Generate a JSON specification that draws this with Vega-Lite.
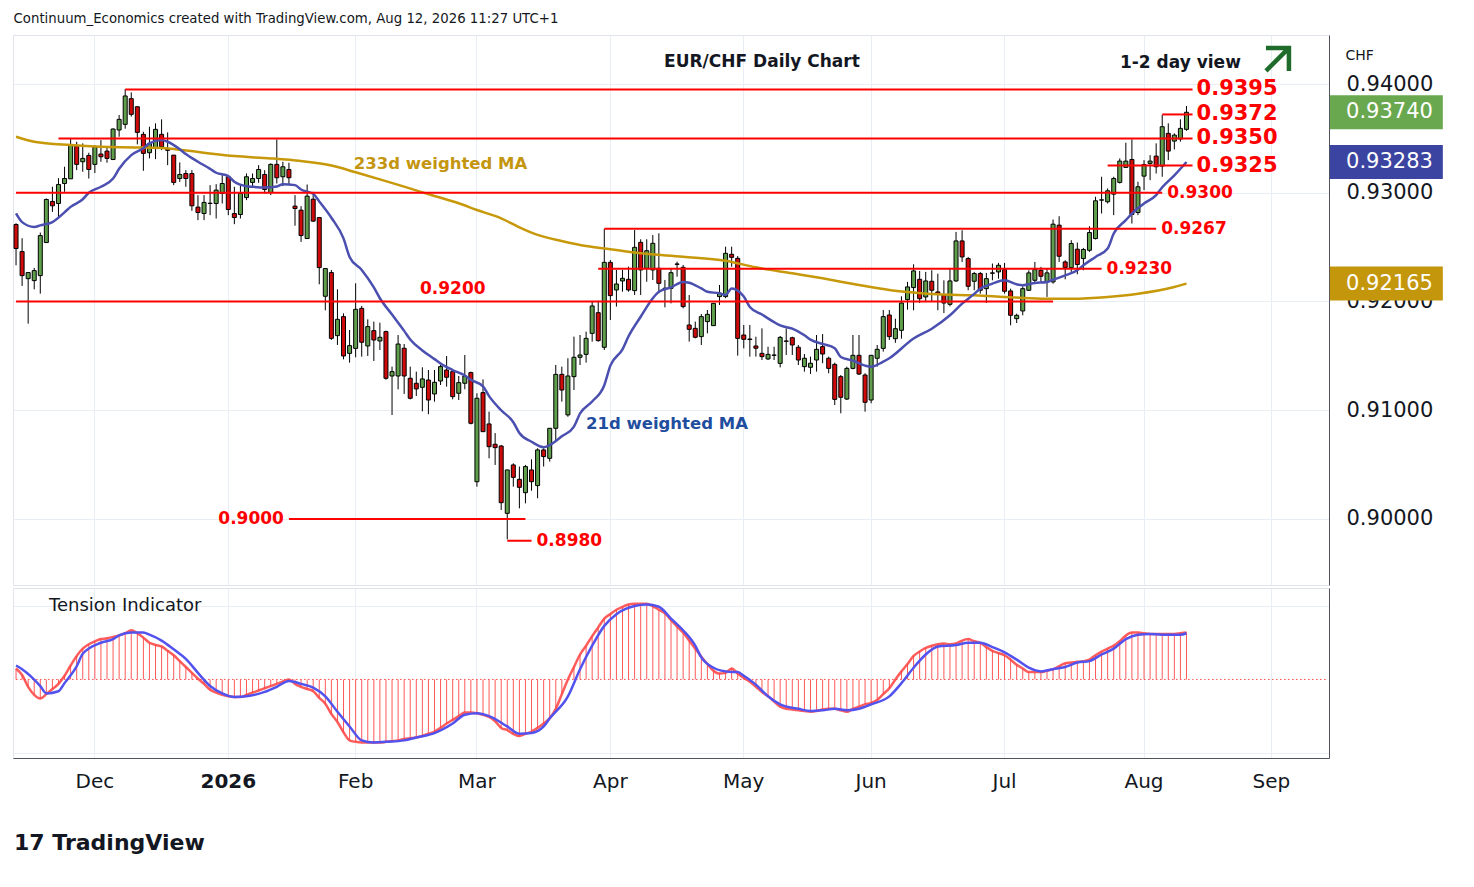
{
  "$schema": "https://vega.github.io/schema/vega-lite/v6.json",
  "padding": {"left": 10, "top": 12, "right": 0, "bottom": 0},
  "title": {"text": "Continuum_Economics created with TradingView.com, Aug 12, 2026 11:27 UTC+1", "anchor": "start", "dx": 3, "fontSize": 13.3, "fontWeight": "normal", "color": "#131722", "offset": 9},
  "spacing": 1,
  "resolve": {"scale": {"x": "shared", "y": "independent"}, "axis": {"x": "independent"}},
  "config": {
    "font": "DejaVu Sans",
    "view": {"stroke": "#e0e3eb"},
    "axis": {"gridColor": "#e9eef4", "domainColor": "#50535e", "ticks": false, "title": null, "labelColor": "#131722"}
  },
  "datasets": {
    "px": [
      {"d":"2025-11-12","o":0.92708,"h":0.9272,"l":0.92333,"c":0.92487,"t":15},
      {"d":"2025-11-13","o":0.92459,"h":0.92582,"l":0.92143,"c":0.92238,"t":6},
      {"d":"2025-11-14","o":0.9221,"h":0.92266,"l":0.91796,"c":0.92266,"t":-10},
      {"d":"2025-11-17","o":0.92192,"h":0.92309,"l":0.92112,"c":0.92284,"t":-21},
      {"d":"2025-11-18","o":0.92238,"h":0.92634,"l":0.92072,"c":0.92606,"t":-26},
      {"d":"2025-11-19","o":0.92542,"h":0.92947,"l":0.92542,"c":0.92938,"t":-20},
      {"d":"2025-11-20","o":0.9292,"h":0.93055,"l":0.92824,"c":0.9288,"t":-13},
      {"d":"2025-11-21","o":0.92901,"h":0.93134,"l":0.92763,"c":0.93076,"t":-6},
      {"d":"2025-11-24","o":0.93085,"h":0.93239,"l":0.93009,"c":0.93131,"t":5},
      {"d":"2025-11-25","o":0.93128,"h":0.935,"l":0.93128,"c":0.93438,"t":19},
      {"d":"2025-11-26","o":0.93432,"h":0.93469,"l":0.93208,"c":0.93261,"t":32},
      {"d":"2025-11-27","o":0.93285,"h":0.93454,"l":0.93193,"c":0.93316,"t":42},
      {"d":"2025-11-28","o":0.93343,"h":0.93368,"l":0.93131,"c":0.93214,"t":48},
      {"d":"2025-12-01","o":0.93261,"h":0.93438,"l":0.93181,"c":0.93423,"t":52},
      {"d":"2025-12-02","o":0.93356,"h":0.93484,"l":0.93285,"c":0.93331,"t":55},
      {"d":"2025-12-03","o":0.93383,"h":0.93423,"l":0.93276,"c":0.93316,"t":56},
      {"d":"2025-12-04","o":0.93306,"h":0.93592,"l":0.933,"c":0.93586,"t":58},
      {"d":"2025-12-05","o":0.93577,"h":0.93715,"l":0.93515,"c":0.93675,"t":60},
      {"d":"2025-12-08","o":0.93629,"h":0.93954,"l":0.93589,"c":0.9389,"t":63},
      {"d":"2025-12-09","o":0.93865,"h":0.93923,"l":0.937,"c":0.93721,"t":67},
      {"d":"2025-12-10","o":0.93791,"h":0.93791,"l":0.93445,"c":0.93555,"t":63},
      {"d":"2025-12-11","o":0.93537,"h":0.93561,"l":0.93202,"c":0.93362,"t":57},
      {"d":"2025-12-12","o":0.93368,"h":0.93607,"l":0.93316,"c":0.93454,"t":50},
      {"d":"2025-12-15","o":0.93408,"h":0.93638,"l":0.93309,"c":0.93583,"t":47},
      {"d":"2025-12-16","o":0.93537,"h":0.93675,"l":0.93392,"c":0.93423,"t":45},
      {"d":"2025-12-17","o":0.934,"h":0.93555,"l":0.93254,"c":0.9339,"t":39},
      {"d":"2025-12-18","o":0.93346,"h":0.93346,"l":0.9307,"c":0.93095,"t":33},
      {"d":"2025-12-19","o":0.93131,"h":0.93279,"l":0.931,"c":0.93168,"t":25},
      {"d":"2025-12-22","o":0.93177,"h":0.93208,"l":0.93055,"c":0.93131,"t":17},
      {"d":"2025-12-23","o":0.93177,"h":0.93208,"l":0.92834,"c":0.9288,"t":9},
      {"d":"2025-12-24","o":0.92868,"h":0.92978,"l":0.92748,"c":0.92818,"t":1},
      {"d":"2025-12-26","o":0.92809,"h":0.92978,"l":0.92748,"c":0.92911,"t":-6},
      {"d":"2025-12-29","o":0.92904,"h":0.9307,"l":0.92794,"c":0.92901,"t":-14},
      {"d":"2025-12-30","o":0.92901,"h":0.93079,"l":0.92763,"c":0.93024,"t":-18},
      {"d":"2025-12-31","o":0.92993,"h":0.93162,"l":0.92901,"c":0.93085,"t":-21},
      {"d":"2026-01-02","o":0.93147,"h":0.93162,"l":0.92794,"c":0.92846,"t":-23},
      {"d":"2026-01-05","o":0.92809,"h":0.93055,"l":0.92711,"c":0.92772,"t":-24},
      {"d":"2026-01-06","o":0.928,"h":0.9307,"l":0.92763,"c":0.92993,"t":-24},
      {"d":"2026-01-07","o":0.92956,"h":0.93177,"l":0.92932,"c":0.93147,"t":-21},
      {"d":"2026-01-08","o":0.93095,"h":0.93177,"l":0.93055,"c":0.93131,"t":-18},
      {"d":"2026-01-09","o":0.93131,"h":0.93254,"l":0.93091,"c":0.93214,"t":-15},
      {"d":"2026-01-12","o":0.93168,"h":0.93208,"l":0.92993,"c":0.9303,"t":-12},
      {"d":"2026-01-13","o":0.93003,"h":0.9327,"l":0.92978,"c":0.93261,"t":-9},
      {"d":"2026-01-14","o":0.93261,"h":0.93491,"l":0.93085,"c":0.93138,"t":-6},
      {"d":"2026-01-15","o":0.93147,"h":0.93285,"l":0.93061,"c":0.93239,"t":-3},
      {"d":"2026-01-16","o":0.93214,"h":0.93276,"l":0.9307,"c":0.93138,"t":0},
      {"d":"2026-01-19","o":0.92877,"h":0.92978,"l":0.92697,"c":0.92855,"t":-6},
      {"d":"2026-01-20","o":0.9284,"h":0.92877,"l":0.92548,"c":0.92606,"t":-10},
      {"d":"2026-01-21","o":0.92579,"h":0.93076,"l":0.92579,"c":0.92969,"t":-13},
      {"d":"2026-01-22","o":0.92941,"h":0.93009,"l":0.92733,"c":0.92739,"t":-16},
      {"d":"2026-01-23","o":0.92772,"h":0.92772,"l":0.92158,"c":0.92312,"t":-25},
      {"d":"2026-01-26","o":0.92048,"h":0.92303,"l":0.91919,"c":0.92303,"t":-33},
      {"d":"2026-01-27","o":0.92266,"h":0.9229,"l":0.91646,"c":0.91661,"t":-47},
      {"d":"2026-01-28","o":0.91686,"h":0.92112,"l":0.916,"c":0.91836,"t":-58},
      {"d":"2026-01-29","o":0.91861,"h":0.91891,"l":0.91468,"c":0.91499,"t":-72},
      {"d":"2026-01-30","o":0.91523,"h":0.91738,"l":0.91438,"c":0.91594,"t":-83},
      {"d":"2026-02-02","o":0.91569,"h":0.92167,"l":0.91487,"c":0.91928,"t":-85},
      {"d":"2026-02-03","o":0.91937,"h":0.91959,"l":0.91493,"c":0.91625,"t":-86},
      {"d":"2026-02-04","o":0.91591,"h":0.91836,"l":0.91499,"c":0.91769,"t":-86},
      {"d":"2026-02-05","o":0.91732,"h":0.91815,"l":0.91453,"c":0.91646,"t":-86},
      {"d":"2026-02-06","o":0.91637,"h":0.91805,"l":0.91554,"c":0.91671,"t":-86},
      {"d":"2026-02-09","o":0.91723,"h":0.91732,"l":0.9128,"c":0.91294,"t":-85},
      {"d":"2026-02-10","o":0.91315,"h":0.91401,"l":0.90956,"c":0.91355,"t":-84},
      {"d":"2026-02-11","o":0.91315,"h":0.91692,"l":0.91192,"c":0.91609,"t":-83},
      {"d":"2026-02-12","o":0.9157,"h":0.91609,"l":0.9115,"c":0.91315,"t":-81},
      {"d":"2026-02-13","o":0.91294,"h":0.91401,"l":0.911,"c":0.9111,"t":-80},
      {"d":"2026-02-16","o":0.91248,"h":0.91355,"l":0.91131,"c":0.91196,"t":-79},
      {"d":"2026-02-17","o":0.91211,"h":0.91395,"l":0.9099,"c":0.91288,"t":-77},
      {"d":"2026-02-18","o":0.91278,"h":0.9137,"l":0.90964,"c":0.91094,"t":-74},
      {"d":"2026-02-19","o":0.9115,"h":0.9137,"l":0.91079,"c":0.91257,"t":-71},
      {"d":"2026-02-20","o":0.91269,"h":0.91416,"l":0.91232,"c":0.91401,"t":-66},
      {"d":"2026-02-23","o":0.9137,"h":0.91499,"l":0.91217,"c":0.91303,"t":-60},
      {"d":"2026-02-24","o":0.91355,"h":0.9137,"l":0.911,"c":0.91125,"t":-55},
      {"d":"2026-02-25","o":0.91156,"h":0.91315,"l":0.91094,"c":0.91254,"t":-50},
      {"d":"2026-02-26","o":0.91248,"h":0.91508,"l":0.91193,"c":0.91315,"t":-45},
      {"d":"2026-02-27","o":0.91346,"h":0.91355,"l":0.9087,"c":0.9088,"t":-45},
      {"d":"2026-03-02","o":0.90343,"h":0.91156,"l":0.90297,"c":0.9111,"t":-46},
      {"d":"2026-03-03","o":0.91162,"h":0.91284,"l":0.908,"c":0.90803,"t":-48},
      {"d":"2026-03-04","o":0.90874,"h":0.90987,"l":0.90558,"c":0.90665,"t":-51},
      {"d":"2026-03-05","o":0.90687,"h":0.9079,"l":0.90497,"c":0.90656,"t":-57},
      {"d":"2026-03-06","o":0.90671,"h":0.90681,"l":0.90083,"c":0.9015,"t":-66},
      {"d":"2026-03-09","o":0.90052,"h":0.90451,"l":0.89813,"c":0.90451,"t":-69},
      {"d":"2026-03-10","o":0.90497,"h":0.90512,"l":0.90297,"c":0.90383,"t":-74},
      {"d":"2026-03-11","o":0.90365,"h":0.90482,"l":0.90098,"c":0.90291,"t":-77},
      {"d":"2026-03-12","o":0.90242,"h":0.90497,"l":0.90144,"c":0.90482,"t":-74},
      {"d":"2026-03-13","o":0.90451,"h":0.90549,"l":0.9026,"c":0.90343,"t":-71},
      {"d":"2026-03-16","o":0.90307,"h":0.9065,"l":0.9019,"c":0.90635,"t":-66},
      {"d":"2026-03-17","o":0.90635,"h":0.9065,"l":0.90482,"c":0.90574,"t":-60},
      {"d":"2026-03-18","o":0.90558,"h":0.90834,"l":0.90528,"c":0.90834,"t":-53},
      {"d":"2026-03-19","o":0.90834,"h":0.91416,"l":0.90727,"c":0.9133,"t":-40},
      {"d":"2026-03-20","o":0.9133,"h":0.91401,"l":0.91079,"c":0.91186,"t":-20},
      {"d":"2026-03-23","o":0.90957,"h":0.91478,"l":0.9094,"c":0.91315,"t":0},
      {"d":"2026-03-24","o":0.91309,"h":0.91677,"l":0.91186,"c":0.91487,"t":17},
      {"d":"2026-03-25","o":0.91487,"h":0.91692,"l":0.91416,"c":0.91508,"t":34},
      {"d":"2026-03-26","o":0.91514,"h":0.91723,"l":0.91438,"c":0.91661,"t":46},
      {"d":"2026-03-27","o":0.91707,"h":0.92005,"l":0.91631,"c":0.91959,"t":59},
      {"d":"2026-03-30","o":0.91897,"h":0.92008,"l":0.91631,"c":0.9164,"t":71},
      {"d":"2026-03-31","o":0.91579,"h":0.92667,"l":0.91554,"c":0.9236,"t":83},
      {"d":"2026-04-01","o":0.9236,"h":0.92381,"l":0.9183,"c":0.92054,"t":89},
      {"d":"2026-04-02","o":0.92106,"h":0.9229,"l":0.91953,"c":0.92161,"t":95},
      {"d":"2026-04-03","o":0.92189,"h":0.9229,"l":0.9209,"c":0.92213,"t":99},
      {"d":"2026-04-06","o":0.92204,"h":0.9232,"l":0.9209,"c":0.92106,"t":102},
      {"d":"2026-04-07","o":0.921,"h":0.92657,"l":0.9206,"c":0.92498,"t":103},
      {"d":"2026-04-08","o":0.92544,"h":0.92572,"l":0.9206,"c":0.9229,"t":103},
      {"d":"2026-04-09","o":0.92305,"h":0.92572,"l":0.92182,"c":0.92467,"t":103},
      {"d":"2026-04-10","o":0.9229,"h":0.92611,"l":0.92198,"c":0.92535,"t":100},
      {"d":"2026-04-13","o":0.92305,"h":0.92627,"l":0.92075,"c":0.92167,"t":95},
      {"d":"2026-04-14","o":0.92122,"h":0.92198,"l":0.91946,"c":0.92118,"t":90},
      {"d":"2026-04-15","o":0.92121,"h":0.92305,"l":0.91983,"c":0.92265,"t":81},
      {"d":"2026-04-16","o":0.92345,"h":0.92366,"l":0.92228,"c":0.92342,"t":72},
      {"d":"2026-04-17","o":0.92314,"h":0.92336,"l":0.91937,"c":0.91953,"t":64},
      {"d":"2026-04-20","o":0.91784,"h":0.9206,"l":0.91631,"c":0.91744,"t":53},
      {"d":"2026-04-21","o":0.91753,"h":0.91815,"l":0.91661,"c":0.91671,"t":42},
      {"d":"2026-04-22","o":0.91677,"h":0.91885,"l":0.916,"c":0.91861,"t":31},
      {"d":"2026-04-23","o":0.91815,"h":0.91922,"l":0.91707,"c":0.91882,"t":21},
      {"d":"2026-04-24","o":0.91778,"h":0.91983,"l":0.91778,"c":0.91983,"t":12},
      {"d":"2026-04-27","o":0.92045,"h":0.92152,"l":0.91968,"c":0.92075,"t":8},
      {"d":"2026-04-28","o":0.92045,"h":0.92504,"l":0.9203,"c":0.92443,"t":9},
      {"d":"2026-04-29","o":0.92434,"h":0.92504,"l":0.9232,"c":0.92406,"t":15},
      {"d":"2026-04-30","o":0.92397,"h":0.92418,"l":0.91502,"c":0.91661,"t":8},
      {"d":"2026-05-01","o":0.91692,"h":0.91784,"l":0.91569,"c":0.91652,"t":2},
      {"d":"2026-05-04","o":0.91655,"h":0.91784,"l":0.91493,"c":0.9165,"t":-3},
      {"d":"2026-05-05","o":0.91591,"h":0.91676,"l":0.91493,"c":0.9157,"t":-10},
      {"d":"2026-05-06","o":0.91523,"h":0.91753,"l":0.91462,"c":0.91493,"t":-17},
      {"d":"2026-05-07","o":0.91472,"h":0.91584,"l":0.91462,"c":0.91514,"t":-23},
      {"d":"2026-05-08","o":0.91505,"h":0.91584,"l":0.91462,"c":0.91508,"t":-30},
      {"d":"2026-05-11","o":0.91431,"h":0.91683,"l":0.91394,"c":0.9167,"t":-37},
      {"d":"2026-05-12","o":0.91637,"h":0.91753,"l":0.91508,"c":0.91634,"t":-40},
      {"d":"2026-05-13","o":0.91667,"h":0.91676,"l":0.91508,"c":0.916,"t":-41},
      {"d":"2026-05-14","o":0.91579,"h":0.916,"l":0.91416,"c":0.91462,"t":-42},
      {"d":"2026-05-15","o":0.91401,"h":0.91517,"l":0.91355,"c":0.91478,"t":-43},
      {"d":"2026-05-18","o":0.91395,"h":0.91493,"l":0.91334,"c":0.91432,"t":-44},
      {"d":"2026-05-19","o":0.91462,"h":0.91692,"l":0.91355,"c":0.9156,"t":-43},
      {"d":"2026-05-20","o":0.91585,"h":0.91701,"l":0.91432,"c":0.91517,"t":-41},
      {"d":"2026-05-21","o":0.91478,"h":0.91493,"l":0.9134,"c":0.91385,"t":-40},
      {"d":"2026-05-22","o":0.91422,"h":0.91438,"l":0.91048,"c":0.911,"t":-40},
      {"d":"2026-05-25","o":0.91309,"h":0.91324,"l":0.90972,"c":0.91119,"t":-42},
      {"d":"2026-05-26","o":0.91103,"h":0.91401,"l":0.91094,"c":0.91385,"t":-44},
      {"d":"2026-05-27","o":0.91385,"h":0.91692,"l":0.91376,"c":0.91505,"t":-40},
      {"d":"2026-05-28","o":0.91505,"h":0.91692,"l":0.91324,"c":0.91333,"t":-37},
      {"d":"2026-05-29","o":0.91324,"h":0.9134,"l":0.90987,"c":0.91073,"t":-34},
      {"d":"2026-06-01","o":0.91094,"h":0.91505,"l":0.91064,"c":0.91505,"t":-32},
      {"d":"2026-06-02","o":0.91478,"h":0.916,"l":0.91401,"c":0.9156,"t":-28},
      {"d":"2026-06-03","o":0.91569,"h":0.91922,"l":0.91539,"c":0.91861,"t":-20},
      {"d":"2026-06-04","o":0.91876,"h":0.91922,"l":0.91646,"c":0.91677,"t":-12},
      {"d":"2026-06-05","o":0.91658,"h":0.91842,"l":0.9162,"c":0.9175,"t":0},
      {"d":"2026-06-08","o":0.91735,"h":0.92048,"l":0.91658,"c":0.91986,"t":11},
      {"d":"2026-06-09","o":0.92017,"h":0.9218,"l":0.91925,"c":0.92134,"t":21},
      {"d":"2026-06-10","o":0.92128,"h":0.92342,"l":0.91919,"c":0.92281,"t":32},
      {"d":"2026-06-11","o":0.92204,"h":0.92281,"l":0.91986,"c":0.92026,"t":38},
      {"d":"2026-06-12","o":0.92042,"h":0.92272,"l":0.91996,"c":0.92189,"t":43},
      {"d":"2026-06-15","o":0.92186,"h":0.92287,"l":0.91996,"c":0.92103,"t":46},
      {"d":"2026-06-16","o":0.92088,"h":0.92256,"l":0.91919,"c":0.92072,"t":48},
      {"d":"2026-06-17","o":0.92057,"h":0.92195,"l":0.91894,"c":0.91986,"t":49},
      {"d":"2026-06-18","o":0.91974,"h":0.92302,"l":0.91956,"c":0.92189,"t":48},
      {"d":"2026-06-19","o":0.92189,"h":0.9264,"l":0.9218,"c":0.92557,"t":49},
      {"d":"2026-06-22","o":0.92557,"h":0.92655,"l":0.92364,"c":0.9241,"t":53},
      {"d":"2026-06-23","o":0.92395,"h":0.9241,"l":0.92103,"c":0.9214,"t":55},
      {"d":"2026-06-24","o":0.92186,"h":0.92272,"l":0.92103,"c":0.92257,"t":52},
      {"d":"2026-06-25","o":0.92257,"h":0.92272,"l":0.92072,"c":0.92103,"t":50},
      {"d":"2026-06-26","o":0.92118,"h":0.92263,"l":0.91986,"c":0.9221,"t":44},
      {"d":"2026-06-29","o":0.92263,"h":0.92349,"l":0.92195,"c":0.9226,"t":39},
      {"d":"2026-06-30","o":0.92272,"h":0.92355,"l":0.9221,"c":0.92333,"t":36},
      {"d":"2026-07-01","o":0.92293,"h":0.92355,"l":0.92072,"c":0.92094,"t":33},
      {"d":"2026-07-02","o":0.92097,"h":0.92118,"l":0.91781,"c":0.91873,"t":27},
      {"d":"2026-07-03","o":0.91842,"h":0.91888,"l":0.91802,"c":0.91873,"t":20},
      {"d":"2026-07-06","o":0.91913,"h":0.9214,"l":0.91873,"c":0.92118,"t":15},
      {"d":"2026-07-07","o":0.92103,"h":0.92287,"l":0.92097,"c":0.92263,"t":10},
      {"d":"2026-07-08","o":0.92195,"h":0.92364,"l":0.92171,"c":0.92293,"t":10},
      {"d":"2026-07-09","o":0.92287,"h":0.92318,"l":0.92171,"c":0.92232,"t":10},
      {"d":"2026-07-10","o":0.9218,"h":0.92302,"l":0.92042,"c":0.92263,"t":12},
      {"d":"2026-07-13","o":0.9218,"h":0.92754,"l":0.92164,"c":0.92711,"t":14},
      {"d":"2026-07-14","o":0.92702,"h":0.92784,"l":0.92364,"c":0.92416,"t":18},
      {"d":"2026-07-15","o":0.92364,"h":0.92379,"l":0.92204,"c":0.92312,"t":22},
      {"d":"2026-07-16","o":0.92312,"h":0.92564,"l":0.92272,"c":0.92533,"t":23},
      {"d":"2026-07-17","o":0.92481,"h":0.92542,"l":0.9225,"c":0.9234,"t":24},
      {"d":"2026-07-20","o":0.92395,"h":0.92493,"l":0.92287,"c":0.92478,"t":25},
      {"d":"2026-07-21","o":0.92471,"h":0.92692,"l":0.92456,"c":0.92634,"t":27},
      {"d":"2026-07-22","o":0.92579,"h":0.92963,"l":0.9257,"c":0.92926,"t":33},
      {"d":"2026-07-23","o":0.92932,"h":0.93147,"l":0.92809,"c":0.92935,"t":38},
      {"d":"2026-07-24","o":0.92917,"h":0.9304,"l":0.92901,"c":0.93018,"t":42},
      {"d":"2026-07-27","o":0.92987,"h":0.93147,"l":0.92794,"c":0.93131,"t":46},
      {"d":"2026-07-28","o":0.93095,"h":0.93316,"l":0.93085,"c":0.93291,"t":52},
      {"d":"2026-07-29","o":0.93233,"h":0.9346,"l":0.93233,"c":0.93291,"t":60},
      {"d":"2026-07-30","o":0.93306,"h":0.93491,"l":0.92717,"c":0.928,"t":64},
      {"d":"2026-07-31","o":0.92818,"h":0.93101,"l":0.92794,"c":0.93055,"t":64},
      {"d":"2026-08-03","o":0.93153,"h":0.933,"l":0.93024,"c":0.9326,"t":63},
      {"d":"2026-08-04","o":0.9327,"h":0.93346,"l":0.93116,"c":0.93291,"t":62},
      {"d":"2026-08-05","o":0.93337,"h":0.93454,"l":0.93177,"c":0.93239,"t":62},
      {"d":"2026-08-06","o":0.93245,"h":0.93715,"l":0.93147,"c":0.93607,"t":62},
      {"d":"2026-08-07","o":0.93546,"h":0.93638,"l":0.933,"c":0.93383,"t":62},
      {"d":"2026-08-10","o":0.93475,"h":0.93546,"l":0.93398,"c":0.9353,"t":62},
      {"d":"2026-08-11","o":0.93494,"h":0.93675,"l":0.9347,"c":0.93592,"t":63},
      {"d":"2026-08-12","o":0.93583,"h":0.93798,"l":0.9357,"c":0.9374,"t":64},
      {"d":"2026-08-13"},{"d":"2026-08-14"},{"d":"2026-08-17"},{"d":"2026-08-18"},{"d":"2026-08-19"},
      {"d":"2026-08-20"},{"d":"2026-08-21"},{"d":"2026-08-24"},{"d":"2026-08-25"},{"d":"2026-08-26"},
      {"d":"2026-08-27"},{"d":"2026-08-28"},{"d":"2026-08-31"},{"d":"2026-09-01"},{"d":"2026-09-02"},
      {"d":"2026-09-03"},{"d":"2026-09-04"},{"d":"2026-09-07"},{"d":"2026-09-08"},{"d":"2026-09-09"},
      {"d":"2026-09-10"},{"d":"2026-09-11"},{"d":"2026-09-14"}
    ],
    "ma21": [
      {"d":"2025-11-12","v":0.9281},{"d":"2025-11-13","v":0.9273},{"d":"2025-11-17","v":0.92686},{"d":"2025-11-18","v":0.927},
      {"d":"2025-11-20","v":0.9273},{"d":"2025-11-24","v":0.9282},{"d":"2025-11-25","v":0.9287},{"d":"2025-11-27","v":0.9294},
      {"d":"2025-11-28","v":0.93},{"d":"2025-12-02","v":0.93055},{"d":"2025-12-04","v":0.9313},{"d":"2025-12-05","v":0.9322},
      {"d":"2025-12-09","v":0.93346},{"d":"2025-12-11","v":0.9341},{"d":"2025-12-12","v":0.93454},{"d":"2025-12-16","v":0.93484},
      {"d":"2025-12-17","v":0.93469},{"d":"2025-12-19","v":0.934},{"d":"2025-12-22","v":0.93356},{"d":"2025-12-24","v":0.93285},
      {"d":"2025-12-29","v":0.9322},{"d":"2025-12-30","v":0.93184},{"d":"2026-01-02","v":0.93153},{"d":"2026-01-05","v":0.93101},
      {"d":"2026-01-07","v":0.9306},{"d":"2026-01-08","v":0.93055},{"d":"2026-01-12","v":0.93049},{"d":"2026-01-14","v":0.93058},
      {"d":"2026-01-15","v":0.93079},{"d":"2026-01-19","v":0.9307},{"d":"2026-01-20","v":0.9303},{"d":"2026-01-22","v":0.9299},
      {"d":"2026-01-23","v":0.9292},{"d":"2026-01-27","v":0.9277},{"d":"2026-01-29","v":0.9258},{"d":"2026-01-30","v":0.9241},
      {"d":"2026-02-03","v":0.9229},{"d":"2026-02-05","v":0.9213},{"d":"2026-02-06","v":0.9203},{"d":"2026-02-10","v":0.9188},
      {"d":"2026-02-12","v":0.9173},{"d":"2026-02-13","v":0.9165},{"d":"2026-02-17","v":0.9155},{"d":"2026-02-19","v":0.9147},
      {"d":"2026-02-20","v":0.9143},{"d":"2026-02-24","v":0.9137},{"d":"2026-02-26","v":0.9132},{"d":"2026-02-27","v":0.9128},
      {"d":"2026-03-03","v":0.9122},{"d":"2026-03-04","v":0.9113},{"d":"2026-03-06","v":0.91},{"d":"2026-03-10","v":0.9089},
      {"d":"2026-03-11","v":0.9079},{"d":"2026-03-13","v":0.9071},{"d":"2026-03-17","v":0.9066},{"d":"2026-03-18","v":0.9068},
      {"d":"2026-03-20","v":0.9076},{"d":"2026-03-24","v":0.9085},{"d":"2026-03-25","v":0.9097},{"d":"2026-03-27","v":0.9108},
      {"d":"2026-03-31","v":0.9123},{"d":"2026-04-01","v":0.9141},{"d":"2026-04-03","v":0.9156},{"d":"2026-04-06","v":0.9168},
      {"d":"2026-04-08","v":0.9186},{"d":"2026-04-10","v":0.9203},{"d":"2026-04-13","v":0.9209},{"d":"2026-04-15","v":0.9213},
      {"d":"2026-04-17","v":0.9218},{"d":"2026-04-20","v":0.92173},{"d":"2026-04-22","v":0.9212},{"d":"2026-04-23","v":0.9209},
      {"d":"2026-04-27","v":0.92075},{"d":"2026-04-28","v":0.9206},{"d":"2026-04-29","v":0.9212},{"d":"2026-05-01","v":0.92045},
      {"d":"2026-05-04","v":0.9195},{"d":"2026-05-06","v":0.9188},{"d":"2026-05-08","v":0.9181},{"d":"2026-05-11","v":0.9178},
      {"d":"2026-05-13","v":0.9175},{"d":"2026-05-15","v":0.9169},{"d":"2026-05-18","v":0.9165},{"d":"2026-05-20","v":0.9161},
      {"d":"2026-05-22","v":0.9157},{"d":"2026-05-25","v":0.9149},{"d":"2026-05-27","v":0.91456},{"d":"2026-05-29","v":0.9141},
      {"d":"2026-06-01","v":0.914},{"d":"2026-06-03","v":0.91447},{"d":"2026-06-04","v":0.91478},{"d":"2026-06-10","v":0.9166},
      {"d":"2026-06-15","v":0.9175},{"d":"2026-06-18","v":0.91873},{"d":"2026-06-22","v":0.9198},{"d":"2026-06-24","v":0.9207},
      {"d":"2026-06-25","v":0.92118},{"d":"2026-06-29","v":0.92164},{"d":"2026-07-01","v":0.92195},{"d":"2026-07-03","v":0.92158},
      {"d":"2026-07-06","v":0.9215},{"d":"2026-07-08","v":0.9217},{"d":"2026-07-10","v":0.9218},{"d":"2026-07-13","v":0.922},
      {"d":"2026-07-15","v":0.9224},{"d":"2026-07-17","v":0.92287},{"d":"2026-07-20","v":0.92333},{"d":"2026-07-22","v":0.9241},
      {"d":"2026-07-24","v":0.92487},{"d":"2026-07-27","v":0.92625},{"d":"2026-07-29","v":0.92748},{"d":"2026-07-30","v":0.92809},
      {"d":"2026-08-03","v":0.92901},{"d":"2026-08-05","v":0.92978},{"d":"2026-08-06","v":0.9305},{"d":"2026-08-10","v":0.9316},
      {"d":"2026-08-12","v":0.93283}
    ],
    "ma233": [
      {"d":"2025-11-12","v":0.93515},{"d":"2025-11-17","v":0.93469},{"d":"2025-11-25","v":0.93438},{"d":"2025-12-02","v":0.93423},
      {"d":"2025-12-10","v":0.93417},{"d":"2025-12-17","v":0.93408},{"d":"2025-12-26","v":0.93368},{"d":"2026-01-05","v":0.93337},
      {"d":"2026-01-13","v":0.93316},{"d":"2026-01-20","v":0.93291},{"d":"2026-01-27","v":0.9325},{"d":"2026-02-02","v":0.93188},
      {"d":"2026-02-06","v":0.93123},{"d":"2026-02-12","v":0.93056},{"d":"2026-02-19","v":0.9297},{"d":"2026-02-25","v":0.92903},
      {"d":"2026-03-02","v":0.92841},{"d":"2026-03-06","v":0.92765},{"d":"2026-03-11","v":0.92682},{"d":"2026-03-16","v":0.92612},
      {"d":"2026-03-20","v":0.92556},{"d":"2026-03-25","v":0.9252},{"d":"2026-03-30","v":0.92495},{"d":"2026-04-01","v":0.9248},
      {"d":"2026-04-08","v":0.92443},{"d":"2026-04-17","v":0.92412},{"d":"2026-04-28","v":0.92375},{"d":"2026-05-05","v":0.92314},
      {"d":"2026-05-13","v":0.92259},{"d":"2026-05-20","v":0.92213},{"d":"2026-05-28","v":0.92152},{"d":"2026-06-04","v":0.92106},
      {"d":"2026-06-09","v":0.92088},{"d":"2026-06-16","v":0.92066},{"d":"2026-06-24","v":0.92057},{"d":"2026-07-01","v":0.92042},
      {"d":"2026-07-09","v":0.92026},{"d":"2026-07-16","v":0.92026},{"d":"2026-07-24","v":0.92042},{"d":"2026-07-31","v":0.92072},
      {"d":"2026-08-10","v":0.92134},{"d":"2026-08-12","v":0.92165}
    ],
    "tb": [
      {"d":"2025-11-12","v":19},{"d":"2025-11-13","v":14},{"d":"2025-11-18","v":-9},{"d":"2025-11-19","v":-19},
      {"d":"2025-11-21","v":-16},{"d":"2025-11-24","v":-5},{"d":"2025-11-26","v":18},{"d":"2025-11-27","v":35},
      {"d":"2025-12-02","v":50},{"d":"2025-12-04","v":55},{"d":"2025-12-05","v":60},{"d":"2025-12-09","v":64},
      {"d":"2025-12-11","v":64},{"d":"2025-12-12","v":61},{"d":"2025-12-16","v":53},{"d":"2025-12-18","v":41},
      {"d":"2025-12-22","v":28},{"d":"2025-12-24","v":9},{"d":"2025-12-29","v":-9},{"d":"2025-12-31","v":-19},
      {"d":"2026-01-05","v":-24},{"d":"2026-01-07","v":-23},{"d":"2026-01-12","v":-17},{"d":"2026-01-14","v":-10},
      {"d":"2026-01-16","v":-2},{"d":"2026-01-20","v":-6},{"d":"2026-01-22","v":-11},{"d":"2026-01-26","v":-23},
      {"d":"2026-01-28","v":-44},{"d":"2026-01-30","v":-64},{"d":"2026-02-03","v":-83},{"d":"2026-02-05","v":-86},
      {"d":"2026-02-09","v":-85},{"d":"2026-02-12","v":-83},{"d":"2026-02-16","v":-79},{"d":"2026-02-19","v":-73},
      {"d":"2026-02-24","v":-60},{"d":"2026-02-26","v":-48},{"d":"2026-03-02","v":-46},{"d":"2026-03-04","v":-50},
      {"d":"2026-03-09","v":-64},{"d":"2026-03-11","v":-74},{"d":"2026-03-13","v":-73},{"d":"2026-03-17","v":-64},
      {"d":"2026-03-18","v":-53},{"d":"2026-03-23","v":-23},{"d":"2026-03-25","v":14},{"d":"2026-03-27","v":46},
      {"d":"2026-03-31","v":73},{"d":"2026-04-02","v":89},{"d":"2026-04-07","v":100},{"d":"2026-04-09","v":102},
      {"d":"2026-04-13","v":99},{"d":"2026-04-15","v":83},{"d":"2026-04-17","v":67},{"d":"2026-04-21","v":46},
      {"d":"2026-04-22","v":30},{"d":"2026-04-24","v":16},{"d":"2026-04-28","v":11},{"d":"2026-04-29","v":10},
      {"d":"2026-04-30","v":10},{"d":"2026-05-01","v":5},{"d":"2026-05-05","v":-7},{"d":"2026-05-07","v":-23},
      {"d":"2026-05-11","v":-34},{"d":"2026-05-14","v":-40},{"d":"2026-05-18","v":-43},{"d":"2026-05-20","v":-42},
      {"d":"2026-05-22","v":-40},{"d":"2026-05-26","v":-42},{"d":"2026-05-28","v":-40},{"d":"2026-06-01","v":-34},
      {"d":"2026-06-04","v":-23},{"d":"2026-06-08","v":-5},{"d":"2026-06-10","v":16},{"d":"2026-06-12","v":34},
      {"d":"2026-06-16","v":45},{"d":"2026-06-19","v":47},{"d":"2026-06-23","v":50},{"d":"2026-06-25","v":50},
      {"d":"2026-06-29","v":44},{"d":"2026-07-01","v":37},{"d":"2026-07-03","v":27},{"d":"2026-07-07","v":16},
      {"d":"2026-07-09","v":11},{"d":"2026-07-13","v":14},{"d":"2026-07-15","v":17},{"d":"2026-07-17","v":23},
      {"d":"2026-07-21","v":25},{"d":"2026-07-23","v":34},{"d":"2026-07-27","v":42},{"d":"2026-07-29","v":55},
      {"d":"2026-07-31","v":61},{"d":"2026-08-04","v":62},{"d":"2026-08-06","v":61},{"d":"2026-08-11","v":61},
      {"d":"2026-08-12","v":63}
    ],
    "levels": [
      {"d":"2025-12-08","e":"2026-08-13","p":0.9395},
      {"d":"2026-08-06","e":"2026-08-13","p":0.9372},
      {"d":"2025-11-21","e":"2026-08-13","p":0.935},
      {"d":"2026-07-24","e":"2026-08-13","p":0.9325},
      {"d":"2025-11-12","e":"2026-08-06","p":0.93},
      {"d":"2026-03-31","e":"2026-08-05","p":0.9267},
      {"d":"2026-03-30","e":"2026-07-23","p":0.923},
      {"d":"2025-11-12","e":"2026-07-13","p":0.92},
      {"d":"2026-01-16","e":"2026-03-12","p":0.9},
      {"d":"2026-03-09","e":"2026-03-13","p":0.898}
    ]
  },
  "vconcat": [
    {
      "width": 1316,
      "height": 550,
      "encoding": {
        "x": {
          "field": "d", "type": "ordinal",
          "scale": {"type": "band", "paddingInner": 0, "paddingOuter": 0},
          "axis": {"values": ["2025-12-01","2026-01-02","2026-02-02","2026-03-02","2026-04-01","2026-05-01","2026-06-01","2026-07-01","2026-08-03","2026-09-01"], "labels": false, "domain": false, "ticks": false, "grid": true, "bandPosition": 0.5, "title": null}
        }
      },
      "layer": [
        {
          "data": {"name": "px"},
          "mark": {"type": "rule", "color": "#000000", "strokeWidth": 1},
          "encoding": {
            "y": {"field": "l", "type": "quantitative",
              "scale": {"domain": [0.89393, 0.944506], "nice": false, "zero": false},
              "axis": {"orient": "right", "values": [0.9, 0.91, 0.92, 0.93, 0.94], "format": ".5f", "labelFontSize": 21, "labelPadding": 17, "grid": true, "ticks": false,
                "title": "CHF", "titleAngle": 0, "titleAlign": "left", "titleBaseline": "middle", "titleX": 16, "titleY": 20, "titleFontSize": 14, "titleFontWeight": "normal", "titleColor": "#131722"}},
            "y2": {"field": "h"}
          }
        },
        {
          "data": {"name": "px"},
          "mark": {"type": "bar", "width": 4, "stroke": "#000000", "strokeWidth": 1},
          "encoding": {
            "y": {"field": "o", "type": "quantitative"},
            "y2": {"field": "c"},
            "color": {"condition": {"test": "datum.c >= datum.o", "value": "#5f9e4b"}, "value": "#cf0a0a"}
          }
        },
        {
          "data": {"name": "ma233"},
          "mark": {"type": "line", "color": "#c7980a", "strokeWidth": 2.5, "interpolate": "monotone"},
          "encoding": {"y": {"field": "v", "type": "quantitative"}}
        },
        {
          "data": {"name": "ma21"},
          "mark": {"type": "line", "color": "#4a4fb0", "strokeWidth": 2.5, "interpolate": "monotone"},
          "encoding": {"y": {"field": "v", "type": "quantitative"}}
        },
        {
          "data": {"name": "levels"},
          "mark": {"type": "rule", "color": "#ff0000", "strokeWidth": 2},
          "encoding": {"x2": {"field": "e"}, "y": {"field": "p", "type": "quantitative"}}
        },
        {
          "data": {"values": [
            {"d":"2026-08-13","p":0.9395,"s":"0.9395"},
            {"d":"2026-08-13","p":0.9372,"s":"0.9372"},
            {"d":"2026-08-13","p":0.935,"s":"0.9350"},
            {"d":"2026-08-13","p":0.9325,"s":"0.9325"}
          ]},
          "mark": {"type": "text", "align": "left", "dx": 4, "fontSize": 21, "fontWeight": "bold", "color": "#ff0000"},
          "encoding": {"y": {"field": "p", "type": "quantitative"}, "text": {"field": "s"}}
        },
        {
          "data": {"values": [
            {"d":"2026-08-06","p":0.93,"s":"0.9300"},
            {"d":"2026-08-05","p":0.9267,"s":"0.9267"},
            {"d":"2026-07-23","p":0.923,"s":"0.9230"},
            {"d":"2026-03-13","p":0.898,"s":"0.8980"}
          ]},
          "mark": {"type": "text", "align": "left", "dx": 5, "fontSize": 17, "fontWeight": "bold", "color": "#ff0000"},
          "encoding": {"y": {"field": "p", "type": "quantitative"}, "text": {"field": "s"}}
        },
        {
          "data": {"values": [{"d":"2026-01-16","p":0.9,"s":"0.9000"}]},
          "mark": {"type": "text", "align": "right", "dx": -5, "fontSize": 17, "fontWeight": "bold", "color": "#ff0000"},
          "encoding": {"y": {"field": "p", "type": "quantitative"}, "text": {"field": "s"}}
        },
        {
          "data": {"values": [{"d":"2026-02-25","p":0.92,"s":"0.9200"}]},
          "mark": {"type": "text", "baseline": "bottom", "dx": -6, "dy": -3, "fontSize": 17, "fontWeight": "bold", "color": "#ff0000"},
          "encoding": {"y": {"field": "p", "type": "quantitative"}, "text": {"field": "s"}}
        },
        {
          "data": {"values": [
            {"d":"2026-05-06","p":0.94202,"s":"EUR/CHF Daily Chart"},
            {"d":"2026-08-11","p":0.94193,"s":"1-2 day view"}
          ]},
          "mark": {"type": "text", "fontSize": 17, "fontWeight": "bold", "color": "#131722"},
          "encoding": {"y": {"field": "p", "type": "quantitative"}, "text": {"field": "s"}}
        },
        {
          "data": {"values": [{"d":"2026-09-02","p":0.94226}]},
          "mark": {"type": "point", "shape": "M-0.85,0.85L0.78,-0.78M-0.85,-0.85H0.85V0.85", "size": 729, "filled": false, "opacity": 1, "strokeWidth": 4.5, "strokeCap": "butt", "strokeJoin": "miter", "color": "#1e6b2c"},
          "encoding": {"y": {"field": "p", "type": "quantitative"}}
        },
        {
          "data": {"values": [{"d":"2026-02-20","p":0.93264,"s":"233d weighted MA"}]},
          "mark": {"type": "text", "fontSize": 16.5, "fontWeight": "bold", "color": "#c4950f"},
          "encoding": {"y": {"field": "p", "type": "quantitative"}, "text": {"field": "s"}}
        },
        {
          "data": {"values": [{"d":"2026-04-14","p":0.90874,"s":"21d weighted MA"}]},
          "mark": {"type": "text", "dx": 2, "fontSize": 16.5, "fontWeight": "bold", "color": "#1f4e9e"},
          "encoding": {"y": {"field": "p", "type": "quantitative"}, "text": {"field": "s"}}
        },
        {
          "data": {"values": [
            {"d":"2026-08-12","p":0.9374,"k":"close"},
            {"d":"2026-08-12","p":0.93283,"k":"ma21"},
            {"d":"2026-08-12","p":0.92165,"k":"ma233"}
          ]},
          "layer": [
            {
              "mark": {"type": "point", "shape": "M0.956,-0.113H1.709V0.113H0.956Z", "size": 90000, "filled": true, "opacity": 1, "strokeWidth": 0},
              "encoding": {
                "y": {"field": "p", "type": "quantitative"},
                "color": {"field": "k", "type": "nominal", "legend": null, "scale": {"domain": ["close", "ma21", "ma233"], "range": ["#6aa84f", "#3c44a1", "#c4960c"]}}
              }
            },
            {
              "mark": {"type": "text", "dx": 203, "fontSize": 21, "color": "#ffffff"},
              "encoding": {
                "y": {"field": "p", "type": "quantitative"},
                "text": {"field": "p", "type": "quantitative", "format": ".5f"}
              }
            }
          ]
        }
      ]
    },
    {
      "width": 1316,
      "height": 170,
      "title": {"text": "17 TradingView", "orient": "bottom", "anchor": "start", "dx": 3, "fontSize": 22, "fontWeight": "bold", "color": "#131722", "offset": 42},
      "encoding": {
        "x": {
          "field": "d", "type": "ordinal",
          "scale": {"type": "band", "paddingInner": 0, "paddingOuter": 0},
          "axis": {
            "values": ["2025-12-01","2026-01-02","2026-02-02","2026-03-02","2026-04-01","2026-05-01","2026-06-01","2026-07-01","2026-08-03","2026-09-01"],
            "labelExpr": "utcmonth(toDate(datum.value)) == 0 ? utcFormat(toDate(datum.value), '%Y') : utcFormat(toDate(datum.value), '%b')",
            "labelFontWeight": {"condition": {"test": "utcmonth(toDate(datum.value)) == 0", "value": "bold"}, "value": "normal"},
            "labelFontSize": 20, "labelAngle": 0, "labelPadding": 13, "labelOverlap": false,
            "grid": true, "ticks": false, "bandPosition": 0.5, "title": null
          }
        }
      },
      "layer": [
        {
          "data": {"name": "px"},
          "mark": {"type": "line", "color": "#ff4d4d", "strokeDash": [1.5, 2.5], "strokeWidth": 1},
          "encoding": {
            "y": {"datum": 0, "type": "quantitative",
              "scale": {"domain": [-107, 124.6], "nice": false, "zero": false},
              "axis": {"orient": "right", "values": [-100, 100], "labels": false, "grid": true, "ticks": false, "title": null}}
          }
        },
        {
          "data": {"name": "px"},
          "mark": {"type": "rule", "color": "#ff3b3b", "strokeWidth": 1, "opacity": 0.85},
          "encoding": {"y": {"field": "t", "type": "quantitative"}, "y2": {"datum": 0}}
        },
        {
          "data": {"name": "px"},
          "mark": {"type": "line", "color": "#ff4040", "strokeWidth": 2.5, "opacity": 0.85, "interpolate": "monotone"},
          "encoding": {"y": {"field": "t", "type": "quantitative"}}
        },
        {
          "data": {"name": "tb"},
          "mark": {"type": "line", "color": "#5252ee", "strokeWidth": 2.5, "interpolate": "monotone"},
          "encoding": {"y": {"field": "v", "type": "quantitative"}}
        },
        {
          "data": {"values": [{"d":"2025-12-08","t":100,"s":"Tension Indicator"}]},
          "mark": {"type": "text", "fontSize": 18, "color": "#131722"},
          "encoding": {"y": {"field": "t", "type": "quantitative"}, "text": {"field": "s"}}
        }
      ]
    }
  ]
}
